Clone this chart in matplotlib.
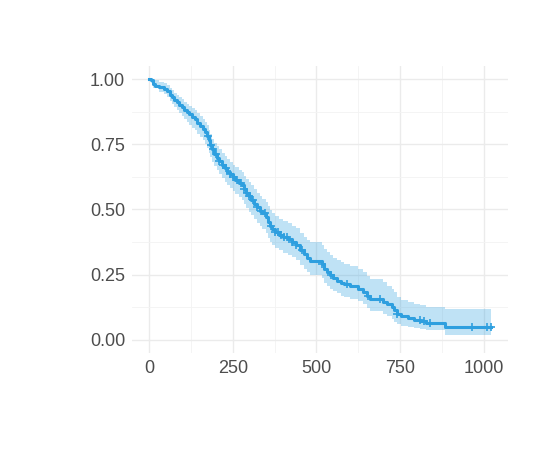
import numpy as np
import matplotlib
matplotlib.use("Agg")
import matplotlib.pyplot as plt
from matplotlib.ticker import MultipleLocator

# Kaplan-Meier step estimate (time, survival after the step)
km_time = [0, 5, 12, 18, 30, 45, 55, 62, 68, 75, 82, 90, 98, 105, 112, 120, 128, 136,
           144, 152, 160, 168, 173, 178, 183, 188, 195, 203, 210, 218, 226, 234, 242,
           250, 258, 268, 278, 284, 290, 298, 306, 314, 322, 330, 338, 348, 356, 362,
           368, 376, 388, 400, 415, 428, 440, 450, 462, 472, 480, 516, 524, 532, 540,
           550, 560, 572, 582, 600, 625, 640, 650, 660, 698, 712, 725, 733, 740, 752,
           775, 792, 810, 828, 884, 1022]
km_surv = [1.0, 0.995, 0.982, 0.975, 0.968, 0.962, 0.955, 0.940, 0.930, 0.920, 0.912,
           0.900, 0.892, 0.882, 0.873, 0.865, 0.855, 0.845, 0.832, 0.820, 0.810, 0.797,
           0.782, 0.766, 0.748, 0.730, 0.712, 0.697, 0.684, 0.670, 0.658, 0.645, 0.635,
           0.625, 0.613, 0.602, 0.592, 0.578, 0.565, 0.552, 0.538, 0.522, 0.508, 0.496,
           0.485, 0.470, 0.452, 0.436, 0.424, 0.412, 0.402, 0.394, 0.385, 0.375, 0.365,
           0.345, 0.330, 0.315, 0.302, 0.290, 0.272, 0.260, 0.248, 0.236, 0.227, 0.219,
           0.213, 0.207, 0.197, 0.185, 0.170, 0.157, 0.146, 0.136, 0.126, 0.116, 0.100,
           0.090, 0.084, 0.077, 0.071, 0.065, 0.048, 0.048]

# confidence band (step)
ci_time = [0, 5, 12, 30, 45, 55, 62, 68, 75, 82, 90, 98, 105, 112, 120, 128, 136, 144,
           152, 160, 168, 173, 178, 183, 188, 195, 203, 210, 218, 226, 234, 242, 250,
           258, 268, 278, 284, 290, 298, 306, 314, 322, 330, 338, 348, 356, 362, 368,
           376, 388, 400, 415, 428, 440, 450, 462, 472, 480, 516, 524, 532, 540, 550,
           560, 572, 582, 600, 625, 640, 650, 660, 698, 712, 725, 733, 740, 752, 775,
           792, 810, 828, 884, 1022]
ci_lower = [1.0, 0.985, 0.965, 0.950, 0.942, 0.932, 0.915, 0.905, 0.893, 0.883, 0.868,
            0.858, 0.846, 0.835, 0.825, 0.814, 0.803, 0.790, 0.776, 0.765, 0.750, 0.735,
            0.718, 0.700, 0.682, 0.665, 0.650, 0.636, 0.620, 0.606, 0.594, 0.582, 0.570,
            0.558, 0.546, 0.535, 0.520, 0.506, 0.492, 0.478, 0.462, 0.448, 0.436, 0.424,
            0.410, 0.392, 0.376, 0.364, 0.352, 0.343, 0.335, 0.326, 0.316, 0.306, 0.288,
            0.273, 0.260, 0.248, 0.236, 0.218, 0.206, 0.196, 0.186, 0.178, 0.170, 0.165,
            0.158, 0.148, 0.136, 0.122, 0.110, 0.100, 0.090, 0.080, 0.070, 0.060, 0.054,
            0.050, 0.046, 0.042, 0.038, 0.018, 0.018]
ci_upper = [1.0, 1.0, 0.998, 0.990, 0.984, 0.978, 0.966, 0.957, 0.948, 0.940, 0.930,
            0.922, 0.914, 0.906, 0.898, 0.889, 0.880, 0.868, 0.858, 0.848, 0.836, 0.822,
            0.806, 0.790, 0.772, 0.756, 0.742, 0.730, 0.716, 0.704, 0.692, 0.682, 0.672,
            0.662, 0.652, 0.642, 0.630, 0.618, 0.605, 0.592, 0.578, 0.564, 0.552, 0.542,
            0.528, 0.512, 0.497, 0.486, 0.474, 0.464, 0.456, 0.447, 0.438, 0.428, 0.410,
            0.395, 0.384, 0.376, 0.365, 0.350, 0.338, 0.326, 0.315, 0.306, 0.298, 0.292,
            0.284, 0.272, 0.260, 0.245, 0.234, 0.222, 0.208, 0.196, 0.182, 0.165, 0.153,
            0.145, 0.138, 0.132, 0.127, 0.117, 0.117]

# censored observation times (+ marks)
censor_time = [175, 185, 192, 201, 210, 222, 231, 243, 252, 262, 276, 285, 293, 300, 311,
               322, 334, 345, 364, 376, 384, 394, 404, 413, 428, 440, 458, 516, 543, 590,
               654, 690, 740, 808, 822, 840, 965, 1010, 1022]

x_ticks = [0, 250, 500, 750, 1000]
y_ticks = [0.0, 0.25, 0.5, 0.75, 1.0]

line_col = "#2E9FDF"

fig = plt.figure(figsize=(5.5, 4.65), dpi=100)
ax = fig.add_axes([0.24, 0.241, 0.684, 0.617])

ax.fill_between(ci_time, ci_lower, ci_upper, step="post", color=line_col,
                alpha=0.3, linewidth=0)
ax.step(km_time, km_surv, where="post", color=line_col, linewidth=2.2)

# survival value at each censor time
idx = np.searchsorted(km_time, censor_time, side="right") - 1
cens_surv = np.asarray(km_surv)[idx]
ax.plot(censor_time, cens_surv, linestyle="none", marker="+", markersize=6,
        markeredgewidth=1.2, color=line_col)

ax.set_xlim(-51, 1073)
ax.set_ylim(-0.05, 1.05)
ax.set_xticks(x_ticks)
ax.set_yticks(y_ticks)
ax.set_yticklabels([f"{v:.2f}" for v in y_ticks])
ax.xaxis.set_minor_locator(MultipleLocator(125))
ax.yaxis.set_minor_locator(MultipleLocator(0.125))
ax.grid(True, which="major", color="#ebebeb", linewidth=1)
ax.grid(True, which="minor", color="#f3f3f3", linewidth=0.6)
ax.set_axisbelow(True)
for s in ax.spines.values():
    s.set_visible(False)
ax.tick_params(which="both", length=0, labelsize=13, labelcolor="#4d4d4d", pad=5)
for lab in ax.get_xticklabels() + ax.get_yticklabels():
    lab.set_fontfamily("Liberation Sans")

fig.savefig("out.png", dpi=100, facecolor="white")
